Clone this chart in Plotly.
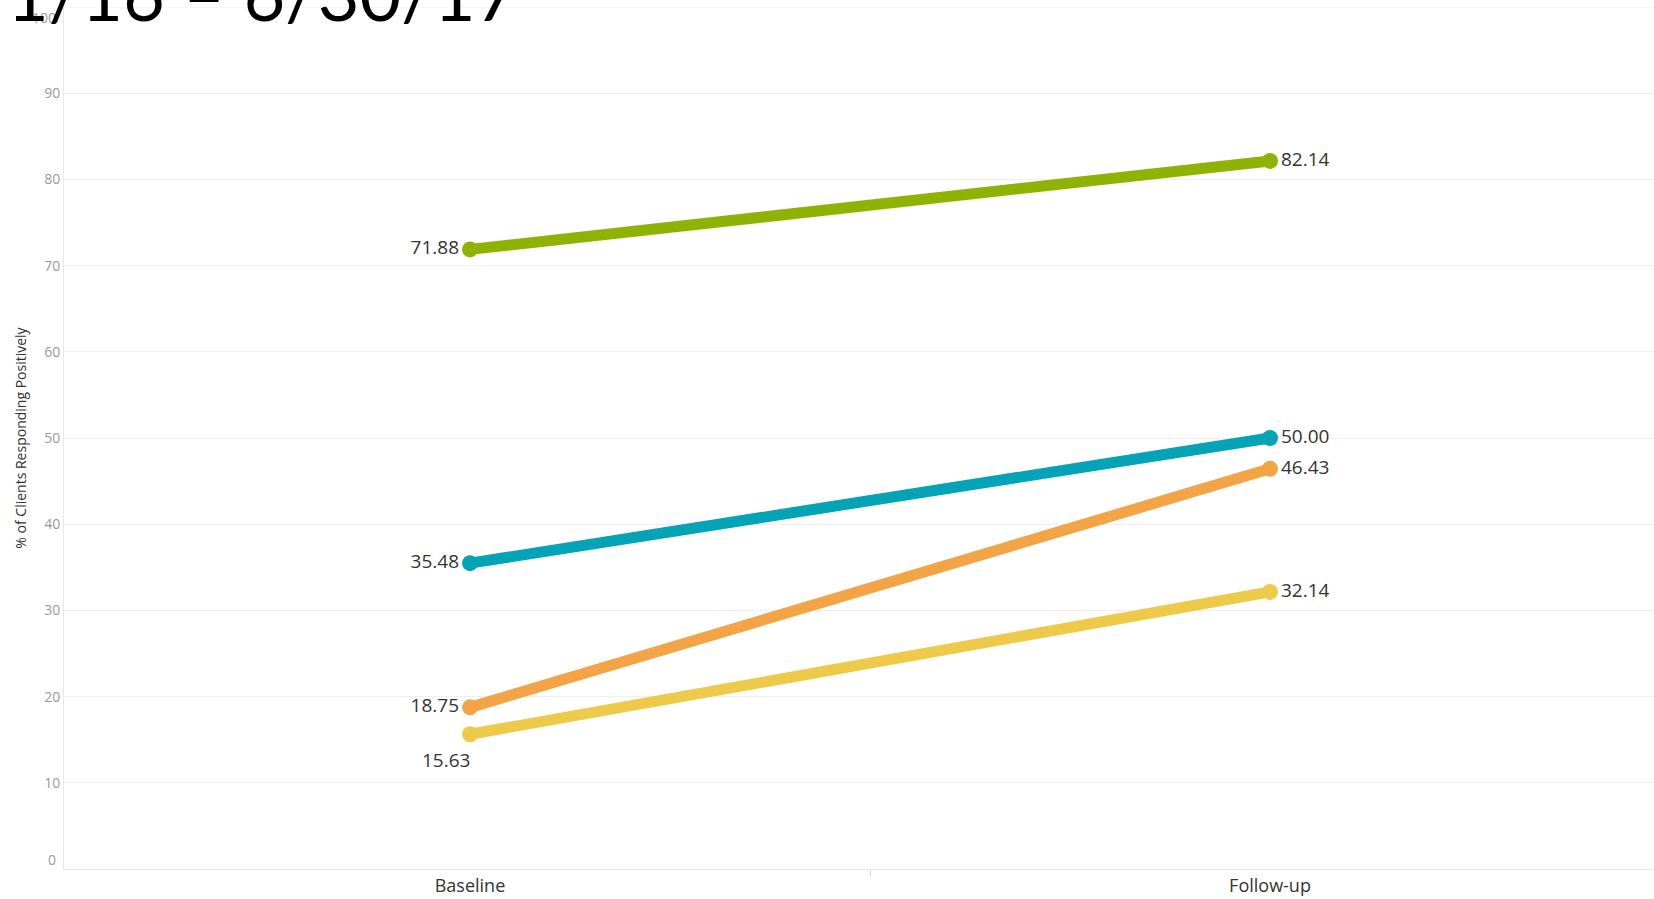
import plotly.graph_objects as go

# Survey periods and % of clients responding positively
periods = ["Baseline", "Follow-up"]
series_names = ["Measure A", "Measure B", "Measure C", "Measure D"]
series_values = [
    [71.88, 82.14],
    [35.48, 50.00],
    [18.75, 46.43],
    [15.63, 32.14],
]
series_colors = ["#8fb304", "#04a3b5", "#f3a446", "#edca4a"]
# whether a point's label sits under its marker
label_below = [
    [False, False],
    [False, False],
    [False, False],
    [True, False],
]
y_ticks = [10, 20, 30, 40, 50, 60, 70, 80, 90]

label_font = dict(family="Open Sans", size=19, color="#333333")
tick_font = dict(family="Open Sans", size=14, color="#999999")

fig = go.Figure()
for name, vals, color, below in zip(series_names, series_values, series_colors, label_below):
    texts = ["" if b else f"{v:.2f}" for v, b in zip(vals, below)]
    fig.add_trace(go.Scatter(
        x=periods,
        y=vals,
        name=name,
        mode="lines+markers+text",
        line=dict(color=color, width=11),
        marker=dict(color=color, size=16),
        text=texts,
        textposition=["middle left", "middle right"],
        textfont=label_font,
        cliponaxis=False,
        hoverinfo="skip",
    ))
    for p, v, b in zip(periods, vals, below):
        if b:
            fig.add_annotation(x=p, y=v, xref="x", yref="y", text=f"{v:.2f}",
                               showarrow=False, xanchor="right", yanchor="top",
                               xshift=2, yshift=-11, font=label_font)

grid = "#f0f0f0"
fig.update_layout(
    width=1654,
    height=899,
    margin=dict(l=64, r=0, t=7, b=30, autoexpand=False),
    paper_bgcolor="white",
    plot_bgcolor="white",
    showlegend=False,
    xaxis=dict(
        type="category",
        range=[-0.5075, 1.48],
        automargin=False,
        showgrid=False,
        zeroline=False,
        showline=True,
        linecolor="#e8e8e8",
        ticks="",
        ticklabelstandoff=0,
        tickfont=dict(family="Open Sans", size=18, color="#333333"),
        minor=dict(tickvals=[0.5], ticks="outside", ticklen=6, tickcolor="#d9d9d9"),
    ),
    yaxis=dict(
        range=[0, 100],
        tickvals=y_ticks,
        automargin=False,
        showgrid=True,
        gridcolor=grid,
        zeroline=False,
        showline=True,
        linecolor="#e8e8e8",
        ticks="",
        tickfont=tick_font,
        title=dict(
            text="% of Clients Responding Positively",
            font=dict(family="Open Sans", size=14, color="#333333"),
            standoff=14,
        ),
    ),
)

# 100 gridline at the top of the axis
fig.add_hline(y=100, line=dict(color=grid, width=1))

# End-of-axis tick labels sit inside the axis range
fig.add_annotation(x=0, xref="paper", xanchor="right", xshift=-6, y=0, yref="y",
                   yanchor="middle", yshift=10, text="0", showarrow=False, font=tick_font)
fig.add_annotation(x=0, xref="paper", xanchor="right", xshift=-6, y=100, yref="y",
                   yanchor="middle", yshift=-10, text="100", showarrow=False, font=tick_font)

# Date-range heading running off the top edge
fig.add_annotation(x=0, xref="paper", xanchor="left", xshift=-59, y=1, yref="paper",
                   yanchor="middle", yshift=14, text="1/16 – 6/30/17", showarrow=False,
                   font=dict(family="Lato", size=72, color="#000000"))

fig.write_html("out.html")
